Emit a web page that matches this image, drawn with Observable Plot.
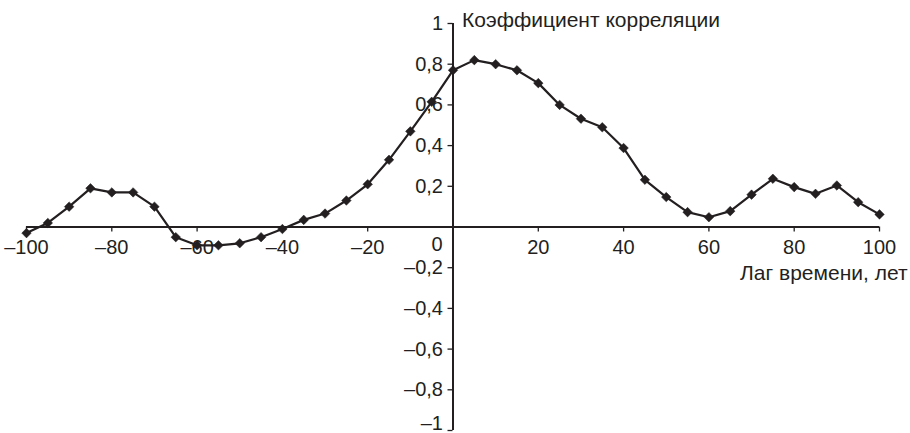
<!DOCTYPE html>
<html>
<head>
<meta charset="utf-8">
<script src="https://cdn.jsdelivr.net/npm/d3@7"></script>
<script src="https://cdn.jsdelivr.net/npm/@observablehq/plot@0.6"></script>
<style>
  html, body { margin: 0; padding: 0; background: #fff; }
  svg { display: block; }
</style>
</head>
<body>
<div id="chart"></div>
<script>
const lags = [-100,-95,-90,-85,-80,-75,-70,-65,-60,-55,-50,-45,-40,-35,-30,-25,-20,-15,-10,-5,0,5,10,15,20,25,30,35,40,45,50,55,60,65,70,75,80,85,90,95,100];
const corr = [-0.03,0.02,0.10,0.19,0.17,0.17,0.10,-0.05,-0.09,-0.09,-0.08,-0.05,-0.01,0.035,0.066,0.13,0.21,0.33,0.47,0.615,0.77,0.82,0.80,0.77,0.707,0.60,0.532,0.49,0.388,0.232,0.147,0.073,0.048,0.078,0.159,0.237,0.196,0.163,0.204,0.122,0.062];
const xTicks = [-100,-80,-60,-40,-20,0,20,40,60,80,100];
const xTickLabels = ["–100","–80","–60","–40","–20","0","20","40","60","80","100"];
const yTicks = [-1,-0.8,-0.6,-0.4,-0.2,0,0.2,0.4,0.6,0.8,1];
const yTickLabels = ["–1","–0,8","–0,6","–0,4","–0,2","0","0,2","0,4","0,6","0,8","1"];
const yTitle = "Коэффициент корреляции";
const xTitle = "Лаг времени, лет";

const data = lags.map((x, i) => ({x, y: corr[i]}));
const xt = xTicks.map((v, i) => ({v, label: xTickLabels[i]})).filter(d => d.v !== 0);
const yt = yTicks.map((v, i) => ({v, label: yTickLabels[i]})).filter(d => d.v !== 0);
const ytMain = yt.filter(d => d.v !== -1);
const ytBottom = yt.filter(d => d.v === -1);
const ink = "#231f20";
const font = "Liberation Sans, Arial, sans-serif";
const fs = 20;
const fsTitle = 21;

const plot = Plot.plot({
  width: 910,
  height: 433,
  marginLeft: 26,
  marginRight: 31,
  marginTop: 23,
  marginBottom: 3,
  style: {fontFamily: font, fontSize: fs + "px", color: ink, background: "#fff"},
  x: {domain: [-100, 100], axis: null},
  y: {domain: [-1, 1], axis: null},
  marks: [
    // x axis line and ticks
    Plot.ruleY([0], {x1: -100, x2: 100, stroke: ink, strokeWidth: 2}),
    Plot.ruleX(xt, {x: "v", y1: 0, y2: 0, insetBottom: -5, stroke: ink, strokeWidth: 1.3}),
    Plot.text(xt, {x: "v", y: 0, text: "label", dy: 21, fontSize: fs, fill: ink}),
    Plot.text(["0"], {x: 0, y: 0, text: d => d, dx: -16, dy: 18, fontSize: fs, fill: ink}),
    // y axis line and ticks
    Plot.ruleX([0], {y1: -1, y2: 1, stroke: ink, strokeWidth: 2}),
    Plot.ruleY(yt, {y: "v", x1: 0, x2: 0, insetLeft: -5, stroke: ink, strokeWidth: 1.3}),
    Plot.text(ytMain, {x: 0, y: "v", text: "label", dx: -10, textAnchor: "end", fontSize: fs, fill: ink}),
    Plot.text(ytBottom, {x: 0, y: "v", text: "label", dx: -10, dy: -7, textAnchor: "end", fontSize: fs, fill: ink}),
    // titles
    Plot.text([yTitle], {x: 0, y: 1, text: d => d, dx: 9, dy: -3, textAnchor: "start", fontSize: fsTitle, fill: ink}),
    Plot.text([xTitle], {x: 100, y: 0, text: d => d, dx: 28, dy: 46, textAnchor: "end", fontSize: fsTitle, fill: ink}),
    // data
    Plot.line(data, {x: "x", y: "y", stroke: ink, strokeWidth: 2.2}),
    Plot.dot(data, {x: "x", y: "y", symbol: "diamond2", r: 4.3, fill: ink, stroke: ink, strokeWidth: 0.5})
  ]
});
document.getElementById("chart").append(plot);
</script>
</body>
</html>
